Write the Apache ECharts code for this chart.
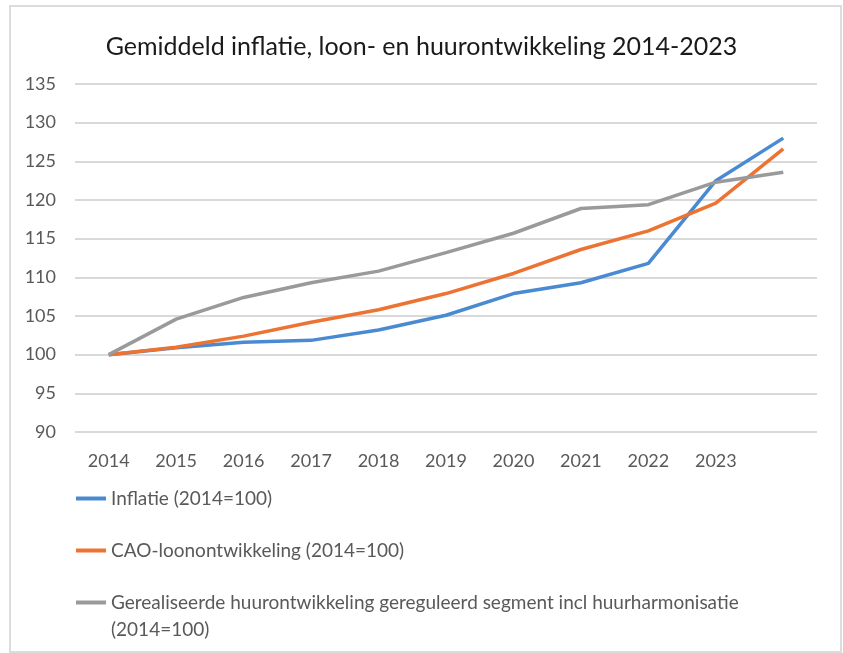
<!DOCTYPE html>
<html>
<head>
<meta charset="utf-8">
<script src="https://cdn.jsdelivr.net/npm/echarts@6/dist/echarts.min.js"></script>
<style>
html,body{margin:0;padding:0;background:#fff;overflow:hidden;width:843px;height:653px;}
#frame{position:absolute;left:9px;top:5px;width:829px;height:644px;border:2px solid #dcdcdc;}
#chart{width:843px;height:720px;position:absolute;left:0;top:0;}
</style>
</head>
<body>
<div id="frame"></div>
<div id="chart"></div>
<script>
const titleText = 'Gemiddeld inflatie, loon- en huurontwikkeling 2014-2023';
const categories = ['2014','2015','2016','2017','2018','2019','2020','2021','2022','2023',''];
const inflatie = [100, 100.9, 101.6, 101.85, 103.2, 105.1, 107.9, 109.3, 111.8, 122.5, 128.0];
const cao = [100, 100.95, 102.4, 104.2, 105.8, 107.9, 110.5, 113.6, 116.0, 119.6, 126.6];
const huur = [100, 104.6, 107.4, 109.3, 110.8, 113.2, 115.7, 118.9, 119.4, 122.3, 123.6];
const seriesNames = [
  'Inflatie (2014=100)',
  'CAO-loonontwikkeling (2014=100)',
  'Gerealiseerde huurontwikkeling gereguleerd segment incl huurharmonisatie (2014=100)'
];
const legendFirstLine3 = 'Gerealiseerde huurontwikkeling gereguleerd segment incl huurharmonisatie';
const legendSecondLine3 = '(2014=100)';
const colors = ['#4a8ad2', '#ec7331', '#9a9a9a'];

const chart = echarts.init(document.getElementById('chart'));
const font = 'Lato, "Open Sans", sans-serif';
chart.setOption({
  animation: false,
  color: colors,
  title: {
    text: titleText,
    left: 'center',
    top: 29,
    textStyle: {fontFamily: font, fontSize: 25, fontWeight: 'normal', color: '#1a1a1a'}
  },
  grid: {left: 75, right: 26, top: 84, bottom: 288},
  xAxis: {
    type: 'category',
    data: categories,
    boundaryGap: true,
    axisLine: {show: false},
    axisTick: {show: false},
    axisLabel: {color: '#595959', fontFamily: font, fontSize: 18, margin: 20, interval: 0}
  },
  yAxis: {
    type: 'value',
    min: 90, max: 135, interval: 5,
    axisLine: {show: false},
    axisTick: {show: false},
    splitLine: {lineStyle: {color: '#d9d9d9', width: 2}},
    axisLabel: {color: '#595959', fontFamily: font, fontSize: 18, margin: 19}
  },
  legend: {
    orient: 'vertical',
    left: 76,
    top: 485,
    padding: 0,
    itemGap: 25,
    itemWidth: 30,
    itemHeight: 4,
    icon: 'rect',
    textStyle: {color: '#595959', fontFamily: font, fontSize: 19, lineHeight: 27},
    data: seriesNames,
    formatter: function (name) {
      return name === seriesNames[2] ? legendFirstLine3 : name;
    }
  },
  graphic: [{
    type: 'text',
    left: 111,
    top: 620,
    style: {text: legendSecondLine3, fill: '#595959', font: '19px ' + font}
  }],
  series: [
    {name: seriesNames[0], type: 'line', data: inflatie, symbol: 'none', lineStyle: {width: 3.5}},
    {name: seriesNames[1], type: 'line', data: cao, symbol: 'none', lineStyle: {width: 3.5}},
    {name: seriesNames[2], type: 'line', data: huur, symbol: 'none', lineStyle: {width: 3.5}}
  ]
});
</script>
</body>
</html>
